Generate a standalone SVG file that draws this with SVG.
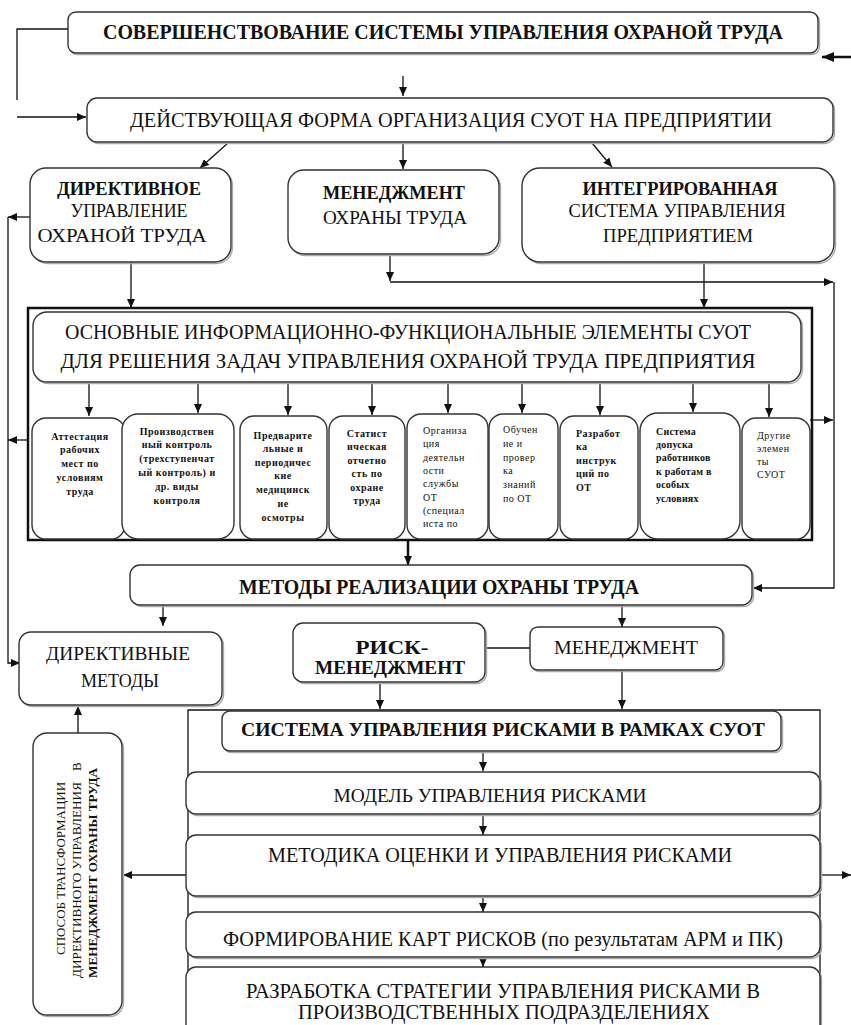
<svg xmlns="http://www.w3.org/2000/svg" width="851" height="1025" viewBox="0 0 851 1025">
<defs>
<marker id="ah" markerUnits="userSpaceOnUse" markerWidth="9" markerHeight="8" refX="9" refY="4" orient="auto"><path d="M0,0 L9,4 L0,8 z" fill="#111"/></marker>
<marker id="ahb" markerUnits="userSpaceOnUse" markerWidth="12" markerHeight="10" refX="12" refY="5" orient="auto"><path d="M0,0 L12,5 L0,10 z" fill="#111"/></marker>
</defs>
<style>
.b{fill:#fff;stroke:#333;stroke-width:1.4}
.s{fill:none;stroke:#aaa;stroke-width:1.4}
.t{font-family:"Liberation Serif","Times New Roman",serif;fill:#111}
.m{text-anchor:middle}
.bd{font-weight:bold}
.sm{font-family:"Liberation Serif","Times New Roman",serif;font-size:10px;fill:#111;letter-spacing:0.5px}
.c{fill:none;stroke:#111;stroke-width:1.3}
.a{marker-end:url(#ah)}
.ab{marker-end:url(#ahb)}
</style>
<rect width="851" height="1025" fill="#fff"/>

<g id="connectors">
<polyline class="c" points="68,29 17,29 17,100"/>
<line class="c a" x1="17" y1="117" x2="86" y2="117"/>
<line class="c ab" x1="851" y1="57" x2="822" y2="57" style="stroke-width:2.5"/>
<line class="c a" x1="403" y1="76" x2="403" y2="96"/>
<line class="c a" x1="228" y1="143" x2="200" y2="168"/>
<line class="c a" x1="403" y1="143" x2="403" y2="169"/>
<line class="c a" x1="592" y1="143" x2="612" y2="167"/>
<line class="c a" x1="30" y1="217" x2="8" y2="217"/>
<path class="c a" d="M8,217 V663 H20"/>
<line class="c a" x1="131" y1="262" x2="131" y2="308"/>
<line class="c a" x1="390" y1="255" x2="390" y2="281"/>
<line class="c a" x1="390" y1="282" x2="833" y2="282"/>
<path class="c a" d="M834,282 V588 H753"/>
<line class="c a" x1="704" y1="262" x2="704" y2="308"/>
<line class="c a" x1="89" y1="383" x2="89" y2="416"/>
<line class="c a" x1="198" y1="383" x2="198" y2="413"/>
<line class="c a" x1="288" y1="383" x2="288" y2="415"/>
<line class="c a" x1="372" y1="383" x2="372" y2="415"/>
<line class="c a" x1="448" y1="383" x2="448" y2="413"/>
<line class="c a" x1="522" y1="383" x2="522" y2="413"/>
<line class="c a" x1="600" y1="383" x2="600" y2="415"/>
<line class="c a" x1="693" y1="383" x2="693" y2="412"/>
<line class="c a" x1="769" y1="383" x2="769" y2="417"/>
<line class="c a" x1="28" y1="440" x2="8" y2="440"/>
<line class="c a" x1="810" y1="420" x2="833" y2="420"/>
<line class="c a" x1="408" y1="540" x2="408" y2="565" style="stroke-width:2.5"/>
<line class="c a" x1="163" y1="605" x2="163" y2="626"/>
<line class="c a" x1="622" y1="605" x2="622" y2="627"/>
<line class="c" x1="486" y1="648" x2="530" y2="648"/>
<line class="c a" x1="380" y1="683" x2="380" y2="709"/>
<line class="c a" x1="622" y1="670" x2="622" y2="709"/>
<line class="c a" x1="483" y1="752" x2="483" y2="771"/>
<line class="c a" x1="483" y1="815" x2="483" y2="835"/>
<line class="c a" x1="483" y1="897" x2="483" y2="912"/>
<line class="c a" x1="483" y1="958" x2="483" y2="967"/>
<line class="c a" x1="187" y1="875" x2="123" y2="875"/>
<line class="c a" x1="821" y1="875" x2="851" y2="875"/>
<line class="c a" x1="78" y1="734" x2="78" y2="706"/>
</g>

<g id="n-title">
<rect class="s" x="69.5" y="13.5" width="750" height="41" rx="8"/>
<rect class="b" x="68" y="12" width="750" height="41" rx="8"/>
<text class="t m bd" x="443" y="39" font-size="20" textLength="680" lengthAdjust="spacingAndGlyphs">СОВЕРШЕНСТВОВАНИЕ СИСТЕМЫ УПРАВЛЕНИЯ ОХРАНОЙ ТРУДА</text>
</g>

<g id="n-current">
<rect class="s" x="88.5" y="99.5" width="746" height="44" rx="10"/>
<rect class="b" x="87" y="98" width="746" height="44" rx="10"/>
<text class="t m" x="451" y="127" font-size="20" textLength="642" lengthAdjust="spacingAndGlyphs">ДЕЙСТВУЮЩАЯ ФОРМА ОРГАНИЗАЦИЯ СУОТ НА ПРЕДПРИЯТИИ</text>
</g>

<g id="n-directive">
<rect class="s" x="31.5" y="169.5" width="201" height="94" rx="16"/>
<rect class="b" x="30" y="168" width="201" height="94" rx="16"/>
<text class="t m bd" x="129" y="195" font-size="18" textLength="144" lengthAdjust="spacingAndGlyphs">ДИРЕКТИВНОЕ</text>
<text class="t m" x="129" y="217" font-size="18" textLength="117" lengthAdjust="spacingAndGlyphs">УПРАВЛЕНИЕ</text>
<text class="t m" x="122" y="242" font-size="18" textLength="169" lengthAdjust="spacingAndGlyphs">ОХРАНОЙ ТРУДА</text>
</g>

<g id="n-management">
<rect class="s" x="289.5" y="171.5" width="211" height="84" rx="16"/>
<rect class="b" x="288" y="170" width="211" height="84" rx="16"/>
<text class="t m bd" x="394" y="199" font-size="18" textLength="142" lengthAdjust="spacingAndGlyphs">МЕНЕДЖМЕНТ</text>
<text class="t m" x="395" y="224" font-size="18" textLength="144" lengthAdjust="spacingAndGlyphs">ОХРАНЫ ТРУДА</text>
</g>

<g id="n-integrated">
<rect class="s" x="523.5" y="169.5" width="312" height="94" rx="18"/>
<rect class="b" x="522" y="168" width="312" height="94" rx="18"/>
<text class="t m bd" x="680" y="195" font-size="18" textLength="195" lengthAdjust="spacingAndGlyphs">ИНТЕГРИРОВАННАЯ</text>
<text class="t m" x="677" y="217" font-size="18" textLength="217" lengthAdjust="spacingAndGlyphs">СИСТЕМА УПРАВЛЕНИЯ</text>
<text class="t m" x="678" y="242" font-size="18" textLength="150" lengthAdjust="spacingAndGlyphs">ПРЕДПРИЯТИЕМ</text>
</g>

<g id="n-elements-frame">
<rect x="28" y="308" width="784" height="232" fill="none" stroke="#111" stroke-width="2.5"/>
</g>

<g id="n-elements">
<rect class="s" x="34.5" y="313.5" width="768" height="70" rx="14"/>
<rect class="b" x="33" y="312" width="768" height="70" rx="14"/>
<text class="t m" x="408" y="339" font-size="21" textLength="686" lengthAdjust="spacingAndGlyphs">ОСНОВНЫЕ ИНФОРМАЦИОННО-ФУНКЦИОНАЛЬНЫЕ ЭЛЕМЕНТЫ СУОТ</text>
<text class="t m" x="408" y="368" font-size="21" textLength="695" lengthAdjust="spacingAndGlyphs">ДЛЯ РЕШЕНИЯ ЗАДАЧ УПРАВЛЕНИЯ ОХРАНОЙ ТРУДА ПРЕДПРИЯТИЯ</text>
</g>

<g id="n-e1">
<rect class="b" x="32" y="418" width="93" height="121" rx="14"/>
<text class="sm bd m"><tspan x="80" y="440">Аттестация</tspan><tspan x="80" y="453">рабочих</tspan><tspan x="80" y="467">мест по</tspan><tspan x="80" y="481">условиям</tspan><tspan x="80" y="495">труда</tspan></text>
</g>
<g id="n-e2">
<rect class="b" x="122" y="414" width="112" height="125" rx="16"/>
<text class="sm bd m"><tspan x="177" y="435">Производствен</tspan><tspan x="177" y="448">ный контроль</tspan><tspan x="177" y="462">(трехступенчат</tspan><tspan x="177" y="476">ый контроль) и</tspan><tspan x="177" y="490">др. виды</tspan><tspan x="177" y="504">контроля</tspan></text>
</g>
<g id="n-e3">
<rect class="b" x="240" y="416" width="87" height="123" rx="14"/>
<text class="sm bd m"><tspan x="283" y="439">Предварите</tspan><tspan x="283" y="452">льные и</tspan><tspan x="283" y="466">периодичес</tspan><tspan x="283" y="479">кие</tspan><tspan x="283" y="493">медицинск</tspan><tspan x="283" y="507">ие</tspan><tspan x="283" y="521">осмотры</tspan></text>
</g>
<g id="n-e4">
<rect class="b" x="329" y="416" width="76" height="123" rx="14"/>
<text class="sm bd m"><tspan x="367" y="437">Статист</tspan><tspan x="367" y="450">ическая</tspan><tspan x="367" y="464">отчетно</tspan><tspan x="367" y="477">сть по</tspan><tspan x="367" y="491">охране</tspan><tspan x="367" y="504">труда</tspan></text>
</g>
<g id="n-e5">
<rect class="b" x="407" y="414" width="81" height="125" rx="14"/>
<text class="sm"><tspan x="423" y="434">Организа</tspan><tspan x="423" y="447">ция</tspan><tspan x="423" y="461">деятельн</tspan><tspan x="423" y="474">ости</tspan><tspan x="423" y="487">службы</tspan><tspan x="423" y="501">ОТ</tspan><tspan x="423" y="514">(специал</tspan><tspan x="423" y="527">иста по</tspan></text>
</g>
<g id="n-e6">
<rect class="b" x="489" y="414" width="69" height="125" rx="14"/>
<text class="sm"><tspan x="503" y="433">Обучен</tspan><tspan x="503" y="447">ие и</tspan><tspan x="503" y="461">провер</tspan><tspan x="503" y="474">ка</tspan><tspan x="503" y="488">знаний</tspan><tspan x="503" y="502">по  ОТ</tspan></text>
</g>
<g id="n-e7">
<rect class="b" x="560" y="416" width="78" height="123" rx="14"/>
<text class="sm bd"><tspan x="576" y="437">Разработ</tspan><tspan x="576" y="450">ка</tspan><tspan x="576" y="464">инструк</tspan><tspan x="576" y="477">ций по</tspan><tspan x="576" y="491">ОТ</tspan></text>
</g>
<g id="n-e8">
<rect class="b" x="640" y="413" width="100" height="126" rx="18"/>
<text class="sm bd" style="letter-spacing:0.2px"><tspan x="656" y="435">Система</tspan><tspan x="656" y="448">допуска</tspan><tspan x="656" y="461">работников</tspan><tspan x="656" y="475">к работам в</tspan><tspan x="656" y="488">особых</tspan><tspan x="656" y="502">условиях</tspan></text>
</g>
<g id="n-e9">
<rect class="b" x="742" y="418" width="68" height="121" rx="14"/>
<text class="sm"><tspan x="757" y="439">Другие</tspan><tspan x="757" y="452">элемен</tspan><tspan x="757" y="465">ты</tspan><tspan x="757" y="478">СУОТ</tspan></text>
</g>

<g id="n-methods">
<rect class="s" x="131.5" y="566.5" width="622" height="40" rx="10"/>
<rect class="b" x="130" y="565" width="622" height="40" rx="10"/>
<text class="t m bd" x="439" y="594" font-size="20" textLength="400" lengthAdjust="spacingAndGlyphs">МЕТОДЫ РЕАЛИЗАЦИИ ОХРАНЫ ТРУДА</text>
</g>

<g id="n-directive-methods">
<rect class="s" x="20.5" y="633.5" width="203" height="73" rx="12"/>
<rect class="b" x="19" y="632" width="203" height="73" rx="12"/>
<text class="t m" x="118" y="660" font-size="18" textLength="144" lengthAdjust="spacingAndGlyphs">ДИРЕКТИВНЫЕ</text>
<text class="t m" x="120" y="687" font-size="18" textLength="78" lengthAdjust="spacingAndGlyphs">МЕТОДЫ</text>
</g>

<g id="n-risk-management">
<rect class="s" x="294.5" y="624.5" width="192" height="59" rx="10"/>
<rect class="b" x="293" y="623" width="192" height="59" rx="10"/>
<text class="t m bd" x="392" y="654" font-size="18" textLength="73" lengthAdjust="spacingAndGlyphs">РИСК-</text>
<text class="t m bd" x="390" y="674" font-size="18" textLength="150" lengthAdjust="spacingAndGlyphs">МЕНЕДЖМЕНТ</text>
</g>

<g id="n-management2">
<rect class="s" x="531.5" y="628.5" width="193" height="43" rx="8"/>
<rect class="b" x="530" y="627" width="193" height="43" rx="8"/>
<text class="t m" x="626" y="654" font-size="18" textLength="144" lengthAdjust="spacingAndGlyphs">МЕНЕДЖМЕНТ</text>
</g>

<g id="n-risk-frame">
<path d="M188,1025 V710 H820 V1025" fill="none" stroke="#111" stroke-width="1.3"/>
</g>

<g id="n-risk-system">
<rect class="s" x="223.5" y="712.5" width="559" height="40" rx="8"/>
<rect class="b" x="222" y="711" width="559" height="40" rx="8"/>
<text class="t m bd" x="503" y="736" font-size="19" textLength="524" lengthAdjust="spacingAndGlyphs">СИСТЕМА УПРАВЛЕНИЯ РИСКАМИ В РАМКАХ СУОТ</text>
</g>

<g id="n-risk-model">
<rect class="s" x="187.5" y="773.5" width="634" height="42" rx="10"/>
<rect class="b" x="186" y="772" width="634" height="42" rx="10"/>
<text class="t m" x="490" y="802" font-size="19" textLength="313" lengthAdjust="spacingAndGlyphs">МОДЕЛЬ УПРАВЛЕНИЯ РИСКАМИ</text>
</g>

<g id="n-risk-method">
<rect class="s" x="187.5" y="836.5" width="634" height="61" rx="10"/>
<rect class="b" x="186" y="835" width="634" height="61" rx="10"/>
<text class="t m" x="500" y="862" font-size="20" textLength="464" lengthAdjust="spacingAndGlyphs">МЕТОДИКА ОЦЕНКИ И УПРАВЛЕНИЯ РИСКАМИ</text>
</g>

<g id="n-risk-maps">
<rect class="s" x="187.5" y="913.5" width="634" height="45" rx="10"/>
<rect class="b" x="186" y="912" width="634" height="45" rx="10"/>
<text class="t m" x="503" y="946" font-size="20" textLength="560" lengthAdjust="spacingAndGlyphs">ФОРМИРОВАНИЕ КАРТ РИСКОВ (по результатам  АРМ и ПК)</text>
</g>

<g id="n-risk-strategy">
<rect class="s" x="187.5" y="968.5" width="634" height="70" rx="10"/>
<rect class="b" x="186" y="967" width="634" height="70" rx="10"/>
<text class="t m" x="503" y="998" font-size="20" textLength="514" lengthAdjust="spacingAndGlyphs">РАЗРАБОТКА СТРАТЕГИИ УПРАВЛЕНИЯ РИСКАМИ В</text>
<text class="t m" x="504" y="1019" font-size="20" textLength="412" lengthAdjust="spacingAndGlyphs">ПРОИЗВОДСТВЕННЫХ ПОДРАЗДЕЛЕНИЯХ</text>
</g>

<g id="n-transform">
<rect class="s" x="34.5" y="734.5" width="89" height="282" rx="14"/>
<rect class="b" x="33" y="733" width="89" height="282" rx="14"/>
<text class="t" font-size="13" transform="translate(65,955) rotate(-90)" textLength="173" lengthAdjust="spacingAndGlyphs">СПОСОБ  ТРАНСФОРМАЦИИ</text>
<text class="t" font-size="13" transform="translate(81,978) rotate(-90)" textLength="196" lengthAdjust="spacingAndGlyphs">ДИРЕКТИВНОГО УПРАВЛЕНИЯ</text>
<text class="t" font-size="13" transform="translate(81,771) rotate(-90)">В</text>
<text class="t bd" font-size="13" transform="translate(97,978) rotate(-90)" textLength="210" lengthAdjust="spacingAndGlyphs">МЕНЕДЖМЕНТ ОХРАНЫ ТРУДА</text>
</g>
</svg>
